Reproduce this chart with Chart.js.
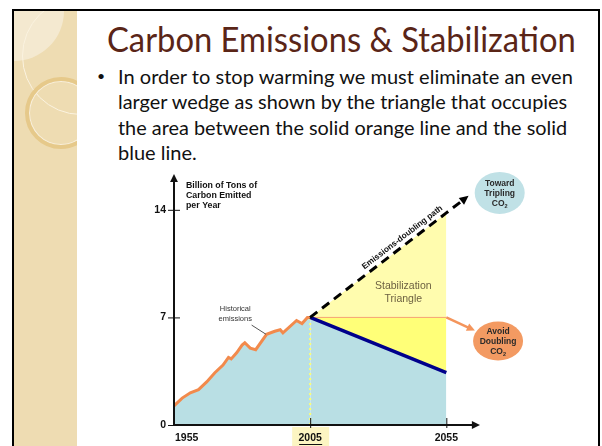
<!DOCTYPE html>
<html>
<head>
<meta charset="utf-8">
<script src="https://cdn.jsdelivr.net/npm/chart.js@4.4.1/dist/chart.umd.min.js"></script>
<style>
  body { margin: 0; width: 602px; height: 446px; overflow: hidden; background: #fff; position: relative; font-family: Lato, "Open Sans", sans-serif; }
  .frame { position: absolute; left: 12px; top: 9px; width: 588px; height: 470px; border: 2px solid #000; box-sizing: border-box; background: #fff; overflow: hidden; }
  .strip { position: absolute; left: 0; top: 0; width: 63px; height: 100%; background: #eedcb2; overflow: hidden; }
  .patch { position: absolute; left: -50px; top: -50px; width: 100px; height: 100px; border-radius: 50%; background: #f4e9d0; }
  .ringA { position: absolute; left: 8px; top: -14px; width: 118px; height: 118px; border-radius: 50%; border: 1.5px solid #fbf3e0; box-sizing: border-box; }
  .ringB { position: absolute; left: 11px; top: 66px; width: 72px; height: 72px; border-radius: 50%; border: 4px solid #e6c98a; box-shadow: inset 0 0 0 1px #f8efdc; box-sizing: border-box; }
  .title { position: absolute; left: 107px; top: 22px; font-size: 34px; line-height: 34px; color: #5a2517; white-space: nowrap; transform-origin: 0 0; }
  .line { position: absolute; left: 118px; font-size: 20px; line-height: 25.5px; color: #111; white-space: nowrap; transform-origin: 0 0; }
  .dot { position: absolute; left: 97px; top: 69px; font-size: 14px; line-height: 14px; color: #111; }
  #wrap { position: absolute; left: 130px; top: 170px; width: 468px; height: 276px; }
</style>
</head>
<body>
<div class="frame">
  <div class="strip"><div class="patch"></div><div class="ringA"></div><div class="ringB"></div></div>
</div>
<div class="title fit" data-w="469">Carbon Emissions &amp; Stabilization</div>
<div class="dot">•</div>
<div class="line fit" data-w="455" style="top:63.5px">In order to stop warming we must eliminate an even</div>
<div class="line fit" data-w="449" style="top:89px">larger wedge as shown by the triangle that occupies</div>
<div class="line fit" data-w="449" style="top:114.5px">the area between the solid orange line and the solid</div>
<div class="line" style="top:140px">blue line.</div>
<div id="wrap"><canvas id="chart" width="468" height="276"></canvas></div>
<script>
// historical emissions, billions of tons of carbon per year
const histYears = [1955, 1958, 1961, 1964, 1967, 1970, 1973, 1975, 1976, 1978, 1980, 1981, 1983, 1985, 1989, 1992, 1994, 1995, 2000, 2002, 2004, 2005];
const histValues = [1.25, 1.75, 2.1, 2.3, 2.8, 3.4, 3.9, 4.4, 4.3, 4.7, 5.2, 5.35, 5.0, 4.9, 5.9, 6.1, 6.2, 6.0, 6.8, 6.6, 7.0, 7.0];

// projections
const projYears = [2005, 2055];
const reducedValues = [7, 3.4];
const flatValues = [7, 7];
const pathYears = [2005, 2055, 2062];
const pathValues = [7, 13.8, 14.75];
const markerYears = [2005, 2005];
const markerValues = [0, 7];

// axes
const yTicks = [0, 7, 14];
const xTicks = [1955, 2005, 2055];
const xLabels = ['1955', '2005', '2055'];

document.querySelectorAll('.fit').forEach(el => {
  el.style.transform = 'scaleX(' + (el.dataset.w / el.scrollWidth) + ')';
});

const pts = (xs, ys) => xs.map((x, i) => ({ x: x, y: ys[i] }));
const emissions = pts(histYears, histValues).concat(pts(projYears.slice(1), reducedValues.slice(1)));

const ORANGE = '#f28a4c';
const NAVY = '#00008b';
const LABEL = '"Liberation Sans", Arial, sans-serif';

function arrowHead(ctx, x1, y1, x2, y2, size, color) {
  const a = Math.atan2(y2 - y1, x2 - x1);
  ctx.save();
  ctx.fillStyle = color;
  ctx.beginPath();
  ctx.moveTo(x2, y2);
  ctx.lineTo(x2 - size * Math.cos(a - 0.45), y2 - size * Math.sin(a - 0.45));
  ctx.lineTo(x2 - size * Math.cos(a + 0.45), y2 - size * Math.sin(a + 0.45));
  ctx.closePath();
  ctx.fill();
  ctx.restore();
}

function co2(ctx, cx, y, font, sub) {
  ctx.font = font;
  const w = ctx.measureText('CO').width;
  ctx.font = sub;
  const ws = ctx.measureText('2').width;
  const left = cx - (w + ws) / 2;
  ctx.textAlign = 'left';
  ctx.font = font;
  ctx.fillText('CO', left, y);
  ctx.font = sub;
  ctx.fillText('2', left + w, y + 2);
  ctx.textAlign = 'center';
}

const slideArt = {
  id: 'slideArt',
  beforeDraw(chart) {
    const ctx = chart.ctx;
    const x = chart.scales.x;
    const bottom = chart.chartArea.bottom;
    const px = x.getPixelForValue(2005);
    ctx.save();
    ctx.fillStyle = '#fcf5c2';
    ctx.fillRect(px - 18, bottom + 2, 37, 20);
    ctx.restore();
  },
  afterDraw(chart) {
    const ctx = chart.ctx;
    const x = chart.scales.x, y = chart.scales.y;
    const area = chart.chartArea;
    const X = v => x.getPixelForValue(v), Y = v => y.getPixelForValue(v);
    ctx.save();

    // axes with arrows
    ctx.strokeStyle = '#111';
    ctx.lineWidth = 2;
    ctx.beginPath();
    ctx.moveTo(area.left, area.bottom);
    ctx.lineTo(area.left, area.top + 4);
    ctx.moveTo(area.left - 1, area.bottom);
    ctx.lineTo(area.right - 4, area.bottom);
    ctx.stroke();
    arrowHead(ctx, area.left, area.bottom, area.left, area.top - 2, 9, '#111');
    arrowHead(ctx, area.left, area.bottom, area.right + 1, area.bottom, 9, '#111');
    ctx.lineWidth = 1;
    ctx.beginPath();
    yTicks.forEach(v => { ctx.moveTo(area.left - 6, Y(v) + 0.5); ctx.lineTo(area.left + 6, Y(v) + 0.5); });
    xTicks.slice(1).forEach(v => { ctx.moveTo(X(v) + 0.5, area.bottom - 7); ctx.lineTo(X(v) + 0.5, area.bottom + 3); });
    ctx.stroke();

    // x labels
    ctx.fillStyle = '#111';
    ctx.font = 'bold 10.5px ' + LABEL;
    ctx.textBaseline = 'alphabetic';
    xTicks.forEach((v, i) => {
      ctx.textAlign = i === 0 ? 'left' : 'center';
      ctx.fillText(xLabels[i], i === 0 ? X(v) + 1 : X(v), area.bottom + 16);
    });
    const p05 = X(2005);
    ctx.fillRect(p05 - 11, area.bottom + 19, 23, 1);

    // axis title
    ctx.textAlign = 'left';
    ctx.font = 'bold 8.8px ' + LABEL;
    ['Billion of Tons of', 'Carbon Emitted', 'per Year'].forEach((t, i) => {
      ctx.fillText(t, area.left + 12, Y(16.2) + 12 + i * 10);
    });

    // dashed path arrow and label
    const pm = chart.getDatasetMeta(3).data;
    const a = pm[pm.length - 2], b = pm[pm.length - 1];
    const da = Math.atan2(b.y - a.y, b.x - a.x);
    arrowHead(ctx, a.x, a.y, b.x + 4 * Math.cos(da), b.y + 4 * Math.sin(da), 10, '#000');
    const ang = Math.atan2(pm[1].y - pm[0].y, pm[1].x - pm[0].x);
    const lx = X(2040.5), ly = Y(7 + (13.8 - 7) * 35.5 / 50);
    ctx.save();
    ctx.translate(lx + 8 * Math.sin(ang), ly - 8 * Math.cos(ang));
    ctx.rotate(ang);
    ctx.textAlign = 'center';
    ctx.font = 'bold 8.3px ' + LABEL;
    ctx.fillStyle = '#111';
    ctx.fillText('Emissions-doubling path', 0, 3);
    ctx.restore();

    // stabilization triangle
    ctx.textAlign = 'center';
    ctx.fillStyle = '#6d6142';
    ctx.font = '10.5px ' + LABEL;
    ctx.fillText('Stabilization', X(2039.2), Y(9.1) + 4);
    ctx.fillText('Triangle', X(2039.2), Y(8.25) + 4);

    // historical emissions note
    ctx.fillStyle = '#333';
    ctx.font = '7.5px ' + LABEL;
    ctx.fillText('Historical', X(1977.5), Y(7.6) + 3);
    ctx.fillText('emissions', X(1977.5), Y(6.95) + 3);
    ctx.strokeStyle = '#555';
    ctx.lineWidth = 1;
    ctx.beginPath();
    ctx.moveTo(X(1983.5), Y(6.5));
    ctx.lineTo(X(1988.8), Y(5.9));
    ctx.stroke();

    // avoid doubling connector
    ctx.strokeStyle = '#f4955c';
    ctx.lineWidth = 2.5;
    ctx.beginPath();
    ctx.moveTo(X(2055), Y(7));
    ctx.lineTo(X(2063.5), Y(6.3));
    ctx.stroke();
    arrowHead(ctx, X(2055), Y(7), X(2065.5), Y(6.15), 9, '#f4955c');

    // ellipses
    const bubble = (cx, cy, rx, ry, fill, lines) => {
      ctx.fillStyle = fill;
      ctx.beginPath();
      ctx.ellipse(cx, cy, rx, ry, 0, 0, Math.PI * 2);
      ctx.fill();
      ctx.fillStyle = '#2a2a2a';
      ctx.textAlign = 'center';
      ctx.font = 'bold 8.5px ' + LABEL;
      ctx.fillText(lines[0], cx, cy - 7);
      ctx.fillText(lines[1], cx, cy + 3);
      co2(ctx, cx, cy + 13, 'bold 8.5px ' + LABEL, 'bold 5.5px ' + LABEL);
    };
    bubble(X(2074.6), Y(15.1), 25, 21, '#c0e1e6', ['Toward', 'Tripling']);
    bubble(X(2074), Y(5.47), 25, 19.5, '#f39a62', ['Avoid', 'Doubling']);

    ctx.restore();
  }
};

new Chart(document.getElementById('chart'), {
  type: 'line',
  data: {
    datasets: [
      {
        label: 'Emissions',
        data: emissions,
        borderColor: ORANGE,
        borderWidth: 3,
        backgroundColor: '#b9dfe4',
        fill: 'origin',
        segment: {
          borderColor: c => c.p0.parsed.x >= 2005 ? NAVY : ORANGE,
          borderWidth: c => c.p0.parsed.x >= 2005 ? 3.5 : 3
        },
        order: 1
      },
      {
        label: 'Flat path',
        data: pts(projYears, flatValues),
        borderColor: '#f6a474',
        borderWidth: 1,
        backgroundColor: '#ffff78',
        fill: 0,
        order: 3
      },
      {
        label: 'Triangle',
        data: pts(projYears, pathValues.slice(0, 2)),
        borderWidth: 0,
        borderColor: 'rgba(0,0,0,0)',
        backgroundColor: '#fffcae',
        fill: 1,
        order: 4
      },
      {
        label: 'Emissions-doubling path',
        data: pts(pathYears, pathValues),
        borderColor: '#000',
        borderWidth: 3,
        borderDash: [9, 6],
        fill: false,
        clip: false,
        order: 0
      },
      {
        label: '2005',
        data: pts(markerYears, markerValues),
        borderColor: '#ffff70',
        borderWidth: 2,
        borderDash: [2, 3],
        fill: false,
        order: 2
      }
    ]
  },
  options: {
    responsive: false,
    animation: false,
    devicePixelRatio: 1,
    layout: { padding: { top: 6, right: 119, left: 0, bottom: 0 } },
    elements: { point: { radius: 0 }, line: { tension: 0 } },
    plugins: {
      legend: { display: false },
      tooltip: { enabled: false },
      filler: { drawTime: 'beforeDatasetsDraw' }
    },
    scales: {
      x: {
        type: 'linear',
        min: 1955,
        max: 2067,
        grid: { display: false, drawTicks: false },
        border: { display: false },
        ticks: { display: false },
        afterFit: s => { s.height = 21; s.paddingLeft = 0; s.paddingRight = 0; }
      },
      y: {
        min: 0,
        max: 16.2,
        grid: { display: false, drawTicks: false },
        border: { display: false },
        afterBuildTicks: s => { s.ticks = yTicks.map(v => ({ value: v })); },
        afterFit: s => { s.width = 44; s.paddingTop = 0; s.paddingBottom = 0; },
        ticks: {
          padding: 8,
          color: '#111',
          font: { family: 'Liberation Sans', weight: 'bold', size: 10.5 }
        }
      }
    }
  },
  plugins: [slideArt]
});
</script>
</body>
</html>
